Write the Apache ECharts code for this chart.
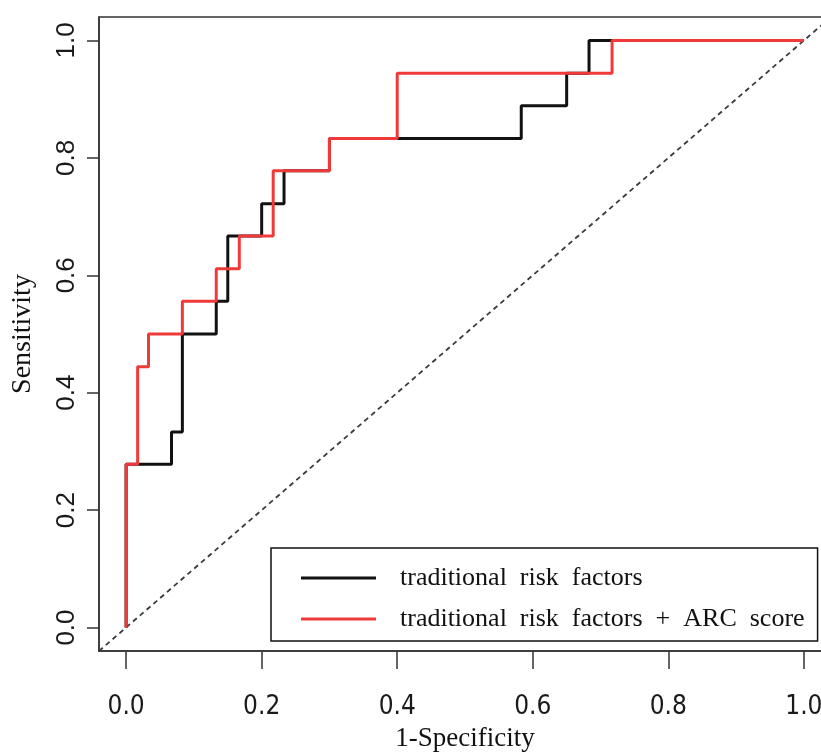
<!DOCTYPE html>
<html lang="en">
<head>
    <meta charset="UTF-8">
    <title>ROC</title>
    <script src="https://cdn.jsdelivr.net/npm/echarts@6.0.0/dist/echarts.min.js"></script>
    <style>
        html, body {
            margin: 0;
            padding: 0;
            background: #fff;
            overflow: hidden;
        }
        #chart {
            width: 840px;
            height: 754px;
        }
    </style>
</head>
<body>
<div id="chart"></div>
<script>
    // ROC corner points
    let tradFpr = [0, 0, 0.067, 0.067, 0.083, 0.083, 0.133, 0.133, 0.15, 0.15, 0.2, 0.2, 0.233, 0.233, 0.3, 0.3, 0.583, 0.583, 0.65, 0.65, 0.683, 0.683, 1];
    let tradTpr = [0, 0.278, 0.278, 0.333, 0.333, 0.5, 0.5, 0.556, 0.556, 0.667, 0.667, 0.722, 0.722, 0.778, 0.778, 0.833, 0.833, 0.889, 0.889, 0.944, 0.944, 1, 1];
    let arcFpr = [0, 0, 0.017, 0.017, 0.033, 0.033, 0.083, 0.083, 0.133, 0.133, 0.167, 0.167, 0.217, 0.217, 0.3, 0.3, 0.4, 0.4, 0.717, 0.717, 1];
    let arcTpr = [0, 0.278, 0.278, 0.444, 0.444, 0.5, 0.5, 0.556, 0.556, 0.611, 0.611, 0.667, 0.667, 0.778, 0.778, 0.833, 0.833, 0.944, 0.944, 1, 1];
    let diagX = [-0.04, 1.04];
    let diagY = [-0.04, 1.04];
    let xTicks = [0, 0.2, 0.4, 0.6, 0.8, 1.0];
    let yTicks = [0, 0.2, 0.4, 0.6, 0.8, 1.0];
    let seriesNames = ['traditional  risk  factors', 'traditional  risk  factors  +  ARC  score'];

    function pairs(xs, ys) {
        return xs.map(function (x, i) {
            return [x, ys[i]];
        });
    }

    let chart = echarts.init(document.getElementById('chart'));
    let option = {
        animation: false,
        backgroundColor: '#fff',
        grid: {
            left: 99,
            top: 17,
            width: 732,
            height: 634,
            outerBoundsMode: 'none',
            containLabel: false,
            show: true,
            borderColor: '#333',
            borderWidth: 1.5,
            backgroundColor: 'transparent'
        },
        legend: {
            orient: 'vertical',
            left: 271,
            top: 548,
            padding: [15, 13, 7, 30],
            itemGap: 11,
            itemWidth: 75,
            itemHeight: 3,
            icon: 'rect',
            borderColor: '#111',
            borderWidth: 1.5,
            data: seriesNames,
            textStyle: {
                fontFamily: '"Liberation Serif", "Times New Roman", serif',
                fontSize: 26,
                lineHeight: 30,
                color: '#111',
                padding: [0, 0, 0, 19]
            }
        },
        xAxis: {
            type: 'value',
            min: -0.04,
            max: 1.04,
            name: '1-Specificity',
            nameLocation: 'middle',
            nameGap: 74,
            nameTextStyle: {
                fontFamily: '"Liberation Serif", "Times New Roman", serif',
                fontSize: 27,
                color: '#111',
                verticalAlign: 'top'
            },
            splitLine: {show: false},
            axisLine: {
                show: true,
                onZero: false,
                lineStyle: {color: '#333', width: 1.5}
            },
            axisTick: {
                show: true,
                length: 18,
                customValues: xTicks,
                lineStyle: {color: '#333', width: 1.5}
            },
            axisLabel: {
                customValues: xTicks,
                margin: 43,
                fontFamily: '"Liberation Sans Narrow", "DejaVu Sans Condensed", "Arial Narrow", sans-serif',
                fontSize: 26,
                color: '#1a1a1a',
                formatter: function (v) {
                    return v.toFixed(1);
                }
            }
        },
        yAxis: {
            type: 'value',
            min: -0.04,
            max: 1.04,
            name: 'Sensitivity',
            nameLocation: 'middle',
            nameRotate: 90,
            nameGap: 62,
            nameTextStyle: {
                fontFamily: '"Liberation Serif", "Times New Roman", serif',
                fontSize: 28,
                color: '#111'
            },
            splitLine: {show: false},
            axisLine: {
                show: true,
                onZero: false,
                lineStyle: {color: '#333', width: 1.5}
            },
            axisTick: {
                show: true,
                length: 12,
                customValues: yTicks,
                lineStyle: {color: '#333', width: 1.5}
            },
            axisLabel: {
                customValues: yTicks,
                rotate: 90,
                margin: 19,
                fontFamily: '"Liberation Sans", Arial, sans-serif',
                fontSize: 26,
                color: '#1a1a1a',
                formatter: function (v) {
                    return v.toFixed(1);
                }
            }
        },
        series: [
            {
                name: 'diagonal',
                type: 'line',
                symbol: 'none',
                data: pairs(diagX, diagY),
                lineStyle: {color: '#3a3a3a', width: 1.8, type: [5, 4]},
                z: 1
            },
            {
                name: seriesNames[0],
                type: 'line',
                symbol: 'none',
                data: pairs(tradFpr, tradTpr),
                itemStyle: {color: '#111'},
                lineStyle: {color: '#111', width: 3},
                z: 2
            },
            {
                name: seriesNames[1],
                type: 'line',
                symbol: 'none',
                data: pairs(arcFpr, arcTpr),
                itemStyle: {color: '#f03a3a'},
                lineStyle: {color: '#f03a3a', width: 3},
                z: 3
            }
        ]
    };
    chart.setOption(option);
</script>
</body>
</html>
